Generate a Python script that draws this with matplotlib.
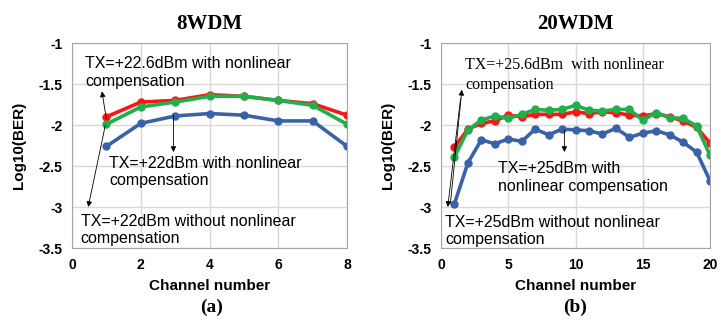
import numpy as np
import matplotlib.pyplot as plt

# 8WDM data
ch8 = [1, 2, 3, 4, 5, 6, 7, 8]
red8 = [-1.90, -1.72, -1.70, -1.63, -1.65, -1.70, -1.74, -1.88]
green8 = [-1.99, -1.78, -1.72, -1.65, -1.65, -1.70, -1.76, -1.99]
blue8 = [-2.26, -1.98, -1.89, -1.86, -1.88, -1.95, -1.95, -2.26]

# 20WDM data
ch20 = list(range(1, 21))
red20 = [-2.27, -2.05, -1.98, -1.95, -1.88, -1.90, -1.87, -1.87, -1.87, -1.84,
         -1.86, -1.84, -1.85, -1.88, -1.89, -1.86, -1.90, -1.95, -2.03, -2.22]
green20 = [-2.39, -2.06, -1.94, -1.89, -1.92, -1.87, -1.81, -1.82, -1.81, -1.76,
           -1.82, -1.83, -1.81, -1.81, -1.94, -1.85, -1.91, -1.92, -2.01, -2.37]
blue20 = [-2.96, -2.46, -2.18, -2.23, -2.17, -2.20, -2.05, -2.12, -2.05, -2.06,
          -2.07, -2.11, -2.04, -2.15, -2.10, -2.07, -2.12, -2.21, -2.33, -2.68]

RED = '#ff1414'
GREEN = '#1fb04c'
BLUE = '#3a62a8'

plt.rcParams['font.family'] = ['Liberation Sans', 'DejaVu Sans']

fig = plt.figure(figsize=(7.21, 3.22), dpi=100)
ax1 = fig.add_axes([0.0999, 0.2298, 0.3814, 0.6366])
ax2 = fig.add_axes([0.6117, 0.2298, 0.3731, 0.6366])


def style(ax, xmax, xstep):
    ax.set_xlim(0, xmax)
    ax.set_ylim(-3.5, -1)
    ax.set_xticks(np.arange(0, xmax + 0.1, xstep))
    ax.set_yticks([-3.5, -3, -2.5, -2, -1.5, -1])
    ax.set_yticklabels(['-3.5', '-3', '-2.5', '-2', '-1.5', '-1'])
    ax.grid(True, color='#d9d9d9', linewidth=1)
    ax.set_axisbelow(True)
    for s in ax.spines.values():
        s.set_color('#a6a6a6')
    ax.tick_params(length=0, labelsize=10, pad=7)
    for lab in ax.get_xticklabels() + ax.get_yticklabels():
        lab.set_fontweight('bold')
    ax.set_xlabel('Channel number', fontsize=11, fontweight='bold', labelpad=5)
    ax.set_ylabel('Log10(BER)', fontsize=11, fontweight='bold', labelpad=9)


def arrow(ax, xy, xytext):
    ax.annotate('', xy=xy, xytext=xytext,
                arrowprops=dict(arrowstyle='-|>', color='black', lw=0.6,
                                mutation_scale=8, shrinkA=0, shrinkB=0))


kw = dict(linewidth=2.6, marker='o', markersize=5)
fs = 11.5

ax1.plot(ch8, blue8, color=BLUE, **kw)
ax1.plot(ch8, red8, color=RED, **kw)
ax1.plot(ch8, green8, color=GREEN, **kw)
style(ax1, 8, 2)
ax1.set_title('8WDM', fontsize=15, fontweight='bold', family='Liberation Serif', pad=10)
ax1.text(0.38, -1.36, 'TX=+22.6dBm with nonlinear\ncompensation', fontsize=fs,
         va='center', linespacing=1.2)
ax1.text(1.08, -2.57, 'TX=+22dBm with nonlinear\ncompensation', fontsize=fs,
         va='center', linespacing=1.2)
ax1.text(0.25, -3.28, 'TX=+22dBm without nonlinear\ncompensation', fontsize=fs,
         va='center', linespacing=1.2)
arrow(ax1, (0.87, -1.59), (1.0, -1.93))
arrow(ax1, (0.47, -3.0), (0.97, -2.0))
arrow(ax1, (2.95, -2.33), (2.95, -1.88))

ax2.plot(ch20, blue20, color=BLUE, **kw)
ax2.plot(ch20, red20, color=RED, **kw)
ax2.plot(ch20, green20, color=GREEN, **kw)
style(ax2, 20, 5)
ax2.set_title('20WDM', fontsize=15, fontweight='bold', family='Liberation Serif', pad=10)
ax2.text(1.78, -1.39, 'TX=+25.6dBm  with nonlinear\ncompensation', fontsize=11.5,
         family='Liberation Serif', va='center', linespacing=1.3)
ax2.text(4.24, -2.64, 'TX=+25dBm with\nnonlinear compensation', fontsize=fs,
         va='center', linespacing=1.2)
ax2.text(0.3, -3.29, 'TX=+25dBm without nonlinear\ncompensation', fontsize=fs,
         va='center', linespacing=1.2)
arrow(ax2, (1.55, -1.57), (0.7, -2.95))
arrow(ax2, (0.5, -3.0), (1.45, -1.68))
arrow(ax2, (9.17, -2.33), (9.17, -2.06))

fig.text(0.294, 0.044, '(a)', fontsize=14, fontweight='bold', family='Liberation Serif',
         ha='center', va='center')
fig.text(0.798, 0.044, '(b)', fontsize=14, fontweight='bold', family='Liberation Serif',
         ha='center', va='center')

fig.savefig('out.png', dpi=100)
